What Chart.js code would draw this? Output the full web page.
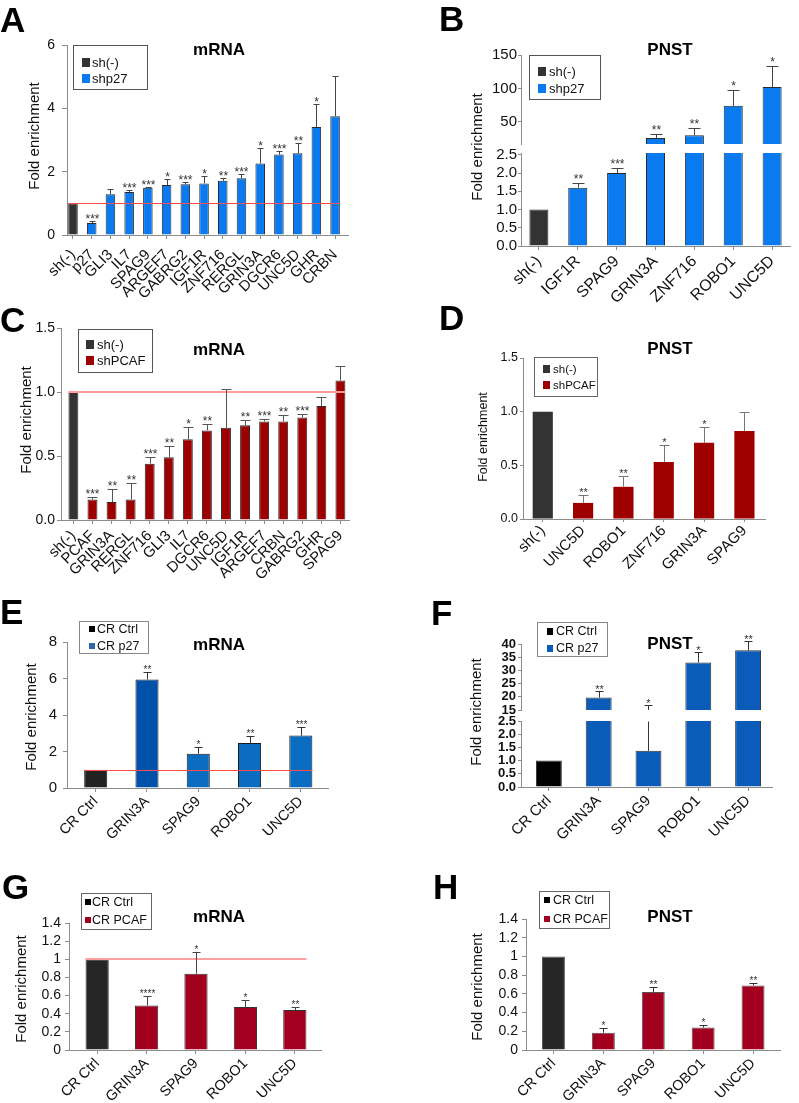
<!DOCTYPE html>
<html>
<head>
<meta charset="utf-8">
<script src="https://cdn.jsdelivr.net/npm/chart.js@4.4.0/dist/chart.umd.min.js"></script>
<style>
html,body{margin:0;padding:0;background:#fff;}
body{position:relative;width:799px;height:1103px;overflow:hidden;}
canvas{position:absolute;}
</style>
</head>
<body>
<canvas id="cA"></canvas>
<canvas id="cB1"></canvas>
<canvas id="cB2"></canvas>
<canvas id="cC"></canvas>
<canvas id="cD"></canvas>
<canvas id="cE"></canvas>
<canvas id="cF1"></canvas>
<canvas id="cF2"></canvas>
<canvas id="cG"></canvas>
<canvas id="cH"></canvas>
<script>
// ---------------- DATA ----------------
// Panel A: mRNA, sh(-) vs shp27
const aLabels = ['sh(-)','p27','GLI3','IL7','SPAG9','ARGEF7','GABRG2','IGF1R','ZNF716','RERGL','GRIN3A','DGCR6','UNC5D','GHR','CRBN'];
const aValues = [1.0,0.38,1.29,1.36,1.49,1.58,1.6,1.63,1.71,1.79,2.26,2.54,2.58,3.41,3.75];
const aErrTop = [null,0.44,1.45,1.41,1.53,1.76,1.67,1.85,1.81,1.93,2.74,2.64,2.9,4.13,5.02];
const aStars = ['','***','','***','***','*','***','*','**','***','*','***','**','*',''];
const aTicks = [0,2,4,6];
const aTickLabels = ['0','2','4','6'];
const aSeries = ['sh(-)','shp27'];

// Panel B: PNST, sh(-) vs shp27 (broken axis)
const bLabels = ['sh(-)','IGF1R','SPAG9','GRIN3A','ZNF716','ROBO1','UNC5D'];
const bValues = [1.0,1.6,2.0,26,30,74,102];
const bErrTop = [null,1.74,2.15,32,41,97,134];
const bStars = ['','**','***','**','**','*','*'];
const bTicksUpper = [50,100,150];
const bTickLabelsUpper = ['50','100','150'];
const bTicksLower = [0,0.5,1,1.5,2,2.5];
const bTickLabelsLower = ['0.0','0.5','1.0','1.5','2.0','2.5'];
const bSeries = ['sh(-)','shp27'];

// Panel C: mRNA, sh(-) vs shPCAF
const cLabels = ['sh(-)','PCAF','GRIN3A','RERGL','ZNF716','GLI3','IL7','DGCR6','UNC5D','IGF1R','ARGEF7','CRBN','GABRG2','GHR','SPAG9'];
const cValues = [1.0,0.16,0.14,0.16,0.44,0.49,0.63,0.70,0.72,0.74,0.77,0.77,0.80,0.89,1.09];
const cErrTop = [null,0.18,0.24,0.29,0.49,0.58,0.73,0.75,1.02,0.78,0.79,0.82,0.83,0.96,1.20];
const cStars = ['','***','**','**','***','**','*','**','','**','***','**','***','',''];
const cTicks = [0,0.5,1,1.5];
const cTickLabels = ['0.0','0.5','1.0','1.5'];
const cSeries = ['sh(-)','shPCAF'];

// Panel D: PNST, sh(-) vs shPCAF
const dLabels = ['sh(-)','UNC5D','ROBO1','ZNF716','GRIN3A','SPAG9'];
const dValues = [1.0,0.15,0.30,0.53,0.71,0.82];
const dErrTop = [null,0.22,0.40,0.69,0.86,1.00];
const dStars = ['','**','**','*','*',''];
const dTicks = [0,0.5,1,1.5];
const dTickLabels = ['0.0','0.5','1.0','1.5'];
const dSeries = ['sh(-)','shPCAF'];

// Panel E: mRNA, CR Ctrl vs CR p27
const eLabels = ['CR Ctrl','GRIN3A','SPAG9','ROBO1','UNC5D'];
const eValues = [1.0,5.95,1.88,2.47,2.87];
const eErrTop = [null,6.34,2.25,2.83,3.32];
const eStars = ['','**','*','**','***'];
const eTicks = [0,2,4,6,8];
const eTickLabels = ['0','2','4','6','8'];
const eSeries = ['CR Ctrl','CR p27'];

// Panel F: PNST, CR Ctrl vs CR p27 (broken axis)
const fLabels = ['CR Ctrl','GRIN3A','SPAG9','ROBO1','UNC5D'];
const fValues = [1.0,19.7,1.37,33.0,37.6];
const fErrTop = [null,22.2,16.8,36.8,41.2];
const fStars = ['','**','*','*','**'];
const fTicksUpper = [15,20,25,30,35,40];
const fTickLabelsUpper = ['15','20','25','30','35','40'];
const fTicksLower = [0,0.5,1,1.5,2,2.5];
const fTickLabelsLower = ['0.0','0.5','1.0','1.5','2.0','2.5'];
const fSeries = ['CR Ctrl','CR p27'];

// Panel G: mRNA, CR Ctrl vs CR PCAF
const gLabels = ['CR Ctrl','GRIN3A','SPAG9','ROBO1','UNC5D'];
const gValues = [1.0,0.49,0.84,0.475,0.44];
const gErrTop = [null,0.59,1.08,0.55,0.475];
const gStars = ['','****','*','*','**'];
const gTicks = [0,0.2,0.4,0.6,0.8,1,1.2,1.4];
const gTickLabels = ['0','0.2','0.4','0.6','0.8','1','1.2','1.4'];
const gSeries = ['CR Ctrl','CR PCAF'];

// Panel H: PNST, CR Ctrl vs CR PCAF
const hLabels = ['CR Ctrl','GRIN3A','SPAG9','ROBO1','UNC5D'];
const hValues = [1.0,0.185,0.62,0.24,0.69];
const hErrTop = [null,0.24,0.67,0.27,0.72];
const hStars = ['','*','**','*','**'];
const hTicks = [0,0.2,0.4,0.6,0.8,1,1.2,1.4];
const hTickLabels = ['0','0.2','0.4','0.6','0.8','1','1.2','1.4'];
const hSeries = ['CR Ctrl','CR PCAF'];

// ---------------- RENDERING ----------------
const FONT = "'Liberation Sans', Arial, Helvetica, sans-serif";
Chart.defaults.font.family = FONT;
Chart.defaults.color = '#222';
const SPECS = new WeakMap();

const panelPlugin = {
  id: 'panelExtras',
  afterDatasetsDraw(chart) {
    const s = SPECS.get(chart.canvas); if (!s) return;
    const ctx = chart.ctx, xs = chart.scales.x, ys = chart.scales.y, ca = chart.chartArea;
    ctx.save();
    if (s.ref) {
      const meta = chart.getDatasetMeta(0);
      const f = meta.data[0], l = meta.data[meta.data.length - 1];
      const y = Math.round(ys.getPixelForValue(s.ref.value)) + (s.ref.width % 2 ? 0.5 : 0);
      ctx.strokeStyle = s.ref.color; ctx.lineWidth = s.ref.width;
      ctx.beginPath(); ctx.moveTo(f.x - f.width / 2, y); ctx.lineTo(l.x + l.width / 2, y); ctx.stroke();
    }
    if (s.errors) {
      ctx.strokeStyle = s.errColor; ctx.lineWidth = 1;
      ctx.fillStyle = '#333';
      ctx.font = s.starFont + 'px ' + FONT; ctx.textAlign = 'center'; ctx.textBaseline = 'alphabetic';
      s.errors.forEach((e, i) => {
        if (e === null || e === undefined) return;
        const v = s.values[i];
        if (v > ys.max || e < ys.min) return;
        const x = Math.round(xs.getPixelForValue(i)) + 0.5;
        const y1 = ys.getPixelForValue(Math.max(v, ys.min));
        let y2 = ys.getPixelForValue(e); let cap = true;
        if (s.clipTop && e > ys.max) { y2 = ca.top; cap = false; }
        y2 = Math.round(y2) + 0.5;
        ctx.beginPath(); ctx.moveTo(x, y1); ctx.lineTo(x, y2);
        if (cap) { ctx.moveTo(x - s.cap, y2); ctx.lineTo(x + s.cap, y2); }
        ctx.stroke();
        if (cap && s.stars && s.stars[i]) ctx.fillText(s.stars[i], x, y2 - s.starGap + 0.58 * s.starFont);
      });
    }
    ctx.restore();
  },
  afterDraw(chart) {
    const s = SPECS.get(chart.canvas); if (!s || !s.deco) return;
    const d = s.deco, ox = s.box.x, oy = s.box.y, ctx = chart.ctx;
    ctx.save();
    ctx.fillStyle = '#000';
    ctx.font = 'bold 35px ' + FONT; ctx.textAlign = 'left'; ctx.textBaseline = 'alphabetic';
    ctx.fillText(d.letter[0], d.letter[1] - ox, d.letter[2] - oy);
    ctx.font = 'bold 17px ' + FONT; ctx.textAlign = 'center'; ctx.textBaseline = 'middle';
    ctx.fillText(d.title[0], d.title[1] - ox, d.title[2] - oy);
    ctx.save();
    ctx.translate(d.yTitle[1] - ox, d.yTitle[2] - oy); ctx.rotate(-Math.PI / 2);
    ctx.font = d.yTitle[3] + 'px ' + FONT; ctx.fillStyle = '#111';
    ctx.fillText(d.yTitle[0], 0, 0);
    ctx.restore();
    const L = d.legend;
    ctx.strokeStyle = L.border; ctx.lineWidth = 1;
    ctx.strokeRect(L.x - ox + 0.5, L.y - oy + 0.5, L.w, L.h);
    ctx.font = L.font + 'px ' + FONT; ctx.textAlign = 'left'; ctx.textBaseline = 'middle';
    L.items.forEach((it, k) => {
      const cy = L.rows[k] - oy;
      ctx.fillStyle = it[1];
      ctx.fillRect(L.sx - ox, Math.round(cy - L.sh / 2), L.sw, L.sh);
      ctx.fillStyle = '#111';
      ctx.fillText(it[0], L.tx - ox, cy + 1);
    });
    ctx.restore();
  }
};

function makeChart(id, s) {
  const box = s.box, area = s.area;
  const cv = document.getElementById(id);
  cv.width = box.w; cv.height = box.h;
  cv.style.left = box.x + 'px'; cv.style.top = box.y + 'px';
  SPECS.set(cv, s);
  const showX = s.showX !== false;
  const axisColor = s.axisColor || '#8c8c8c';
  const xScale = {
    type: 'linear', display: showX, min: s.xMin, max: s.xMax, offset: false,
    afterBuildTicks: sc => { sc.ticks = s.labels.map((_, i) => ({ value: i })); },
    grid: { display: true, drawOnChartArea: false, drawTicks: true, tickLength: s.xTickLen || 4, color: axisColor, offset: false },
    border: { display: true, color: axisColor, width: 1 },
    ticks: { autoSkip: false, minRotation: 45, maxRotation: 45, padding: s.xPad === undefined ? 2 : s.xPad, color: '#111',
      font: { size: s.xFont, family: FONT }, callback: v => s.labels[Math.round(v)] }
  };
  if (showX) xScale.afterFit = sc => { sc.height = box.y + box.h - area.b; };
  return new Chart(cv, {
    type: 'bar',
    data: {
      datasets: [{
        data: s.values.map((v, i) => ({ x: i, y: v })),
        backgroundColor: s.values.map((v, i) => s.colors[Math.min(i, s.colors.length - 1)]),
        borderColor: s.borderColor || '#2a2a2a',
        borderWidth: s.borderWidth === undefined ? 1 : s.borderWidth,
        categoryPercentage: s.barFrac, barPercentage: 1,
        clip: s.clip === undefined ? false : s.clip
      }]
    },
    options: {
      responsive: false, animation: false, devicePixelRatio: 1, events: [],
      layout: { padding: { left: 0, top: area.t - box.y, right: box.x + box.w - area.r,
        bottom: showX ? 0 : box.y + box.h - area.b } },
      plugins: { legend: { display: false }, tooltip: { enabled: false } },
      scales: {
        x: xScale,
        y: {
          type: 'linear', min: s.yMin, max: s.yMax, beginAtZero: false,
          afterBuildTicks: sc => { sc.ticks = s.yTicks.map(v => ({ value: v })); },
          afterFit: sc => { sc.width = area.l - box.x; },
          grid: { drawOnChartArea: false, drawTicks: true, tickLength: s.yTickLen, color: axisColor },
          border: { display: true, color: axisColor, width: 1 },
          ticks: { autoSkip: false, padding: s.yPad, color: '#111', font: { size: s.yFont, weight: s.yBold ? 'bold' : 'normal', family: FONT },
            callback: (v, i) => s.yTickLabels[i] }
        }
      }
    },
    plugins: [panelPlugin]
  });
}

const BLUE_A = '#0a7af0', DARK = '#333333', RED_C = '#9e0000', RED_G = '#a30020';

// A
makeChart('cA', {
  box: { x: 0, y: 0, w: 400, h: 310 }, area: { l: 67, t: 45, r: 348, b: 235 },
  labels: aLabels, values: aValues, errors: aErrTop, stars: aStars,
  yMin: 0, yMax: 6, yTicks: aTicks, yTickLabels: aTickLabels, yFont: 14, yTickLen: 5, yPad: 7,
  xMin: -0.32, xMax: 14.69, xFont: 15, xPad: 7, barFrac: 0.51,
  colors: [DARK, BLUE_A], errColor: '#444', cap: 3, starFont: 12, starGap: 5,
  ref: { value: 1, color: '#ff4d4d', width: 1 },
  deco: { letter: ['A', 0, 32], title: ['mRNA', 219, 50], yTitle: ['Fold enrichment', 35, 136, 15],
    legend: { x: 73, y: 45, w: 74, h: 44, sx: 82, sw: 8, sh: 9, tx: 92, rows: [62, 78], font: 13, border: '#555',
      items: [[aSeries[0], DARK], [aSeries[1], BLUE_A]] } }
});

// B upper + lower
const bBase = {
  box: { x: 400, y: 0, w: 399, h: 310 }, labels: bLabels, values: bValues, errors: bErrTop, stars: bStars,
  xMin: -0.46, xMax: 6.46, xFont: 16, xPad: 2, barFrac: 0.49, yFont: 15, yTickLen: 3, yPad: 1,
  colors: [DARK, BLUE_A], errColor: '#444', cap: 6, starFont: 12, starGap: 7, clip: 0
};
makeChart('cB1', Object.assign({}, bBase, {
  area: { l: 521, t: 55, r: 790, b: 144 }, showX: false,
  yMin: 17, yMax: 150, yTicks: bTicksUpper, yTickLabels: bTickLabelsUpper
}));
makeChart('cB2', Object.assign({}, bBase, {
  area: { l: 521, t: 153, r: 790, b: 246 }, clipTop: true,
  yMin: 0, yMax: 2.55, yTicks: bTicksLower, yTickLabels: bTickLabelsLower,
  deco: { letter: ['B', 439, 31], title: ['PNST', 670, 50], yTitle: ['Fold enrichment', 478, 147, 15],
    legend: { x: 529, y: 55, w: 71, h: 44, sx: 538, sw: 8, sh: 9, tx: 549, rows: [71, 88], font: 13, border: '#555',
      items: [[bSeries[0], DARK], [bSeries[1], BLUE_A]] } }
}));

// C
makeChart('cC', {
  box: { x: 0, y: 270, w: 400, h: 310 }, area: { l: 61, t: 328, r: 349, b: 520 },
  labels: cLabels, values: cValues, errors: cErrTop, stars: cStars,
  yMin: 0, yMax: 1.5, yTicks: cTicks, yTickLabels: cTickLabels, yFont: 14, yTickLen: 4, yPad: 2,
  xMin: -0.65, xMax: 14.45, xFont: 15, xPad: 3, barFrac: 0.52,
  colors: [DARK, RED_C], errColor: '#555', cap: 5, starFont: 12, starGap: 6.5,
  ref: { value: 1, color: '#ff9c9c', width: 2 },
  deco: { letter: ['C', 0, 332], title: ['mRNA', 219, 350], yTitle: ['Fold enrichment', 27, 420, 15],
    legend: { x: 78, y: 329, w: 74, h: 43, sx: 86, sw: 8, sh: 9, tx: 97, rows: [344, 360], font: 13, border: '#555',
      items: [[cSeries[0], DARK], [cSeries[1], RED_C]] } }
});

// D
makeChart('cD', {
  box: { x: 400, y: 270, w: 399, h: 315 }, area: { l: 523, t: 358, r: 765, b: 519 },
  labels: dLabels, values: dValues, errors: dErrTop, stars: dStars,
  yMin: 0, yMax: 1.5, yTicks: dTicks, yTickLabels: dTickLabels, yFont: 12.5, yTickLen: 3, yPad: 2,
  xMin: -0.49, xMax: 5.51, xFont: 15, xPad: 0, xTickLen: 3, barFrac: 0.5, borderWidth: 0,
  colors: [DARK, RED_C], errColor: '#777', cap: 5, starFont: 11, starGap: 6,
  deco: { letter: ['D', 439, 330], title: ['PNST', 670, 349], yTitle: ['Fold enrichment', 484, 437, 12.5],
    legend: { x: 534, y: 357, w: 63, h: 39, sx: 543, sw: 7, sh: 8, tx: 553, rows: [369, 385], font: 11.5, border: '#666',
      items: [[dSeries[0], DARK], [dSeries[1], RED_C]] } }
});

// E
makeChart('cE', {
  box: { x: 0, y: 540, w: 400, h: 300 }, area: { l: 67, t: 642, r: 328, b: 788 },
  labels: eLabels, values: eValues, errors: eErrTop, stars: eStars,
  yMin: 0, yMax: 8, yTicks: eTicks, yTickLabels: eTickLabels, yFont: 15, yTickLen: 4, yPad: 6,
  xMin: -0.56, xMax: 4.53, xFont: 14.5, xPad: 1, barFrac: 0.45, borderColor: '#1a1a1a',
  colors: ['#222222', '#0052a8', '#0a6dc2'], errColor: '#333', cap: 4, starFont: 10, starGap: 5,
  ref: { value: 1, color: '#ff4d4d', width: 1 },
  deco: { letter: ['E', 0, 624], title: ['mRNA', 219, 645], yTitle: ['Fold enrichment', 32, 717, 15],
    legend: { x: 79, y: 621, w: 69, h: 32, sx: 89, sw: 6, sh: 6, tx: 97, rows: [629, 646], font: 12.5, border: '#888',
      items: [[eSeries[0], '#000000'], [eSeries[1], '#2e66aa']] } }
});

// F upper + lower
const fBase = {
  box: { x: 400, y: 540, w: 399, h: 300 }, labels: fLabels, values: fValues, errors: fErrTop, stars: fStars,
  xMin: -0.56, xMax: 4.48, xFont: 15, xPad: 1, barFrac: 0.52, yFont: 13, yBold: true, yTickLen: 3, yPad: 2,
  colors: ['#000000', '#0b5bb8'], borderColor: '#333', errColor: '#333', cap: 4, starFont: 11, starGap: 5, clip: 0
};
makeChart('cF1', Object.assign({}, fBase, {
  area: { l: 521, t: 644, r: 772, b: 710 }, showX: false,
  yMin: 15, yMax: 40, yTicks: fTicksUpper, yTickLabels: fTickLabelsUpper
}));
makeChart('cF2', Object.assign({}, fBase, {
  area: { l: 521, t: 721, r: 772, b: 787 }, clipTop: true,
  yMin: 0, yMax: 2.5, yTicks: fTicksLower, yTickLabels: fTickLabelsLower,
  deco: { letter: ['F', 431, 625], title: ['PNST', 670, 644], yTitle: ['Fold enrichment', 477, 712, 15],
    legend: { x: 537, y: 622, w: 70, h: 34, sx: 547, sw: 6, sh: 7, tx: 556, rows: [631, 648], font: 12.5, border: '#888',
      items: [[fSeries[0], '#000000'], [fSeries[1], '#0b5bb8']] } }
}));

// G
makeChart('cG', {
  box: { x: 0, y: 820, w: 400, h: 283 }, area: { l: 69, t: 923, r: 321, b: 1050 },
  labels: gLabels, values: gValues, errors: gErrTop, stars: gStars,
  yMin: 0, yMax: 1.4, yTicks: gTicks, yTickLabels: gTickLabels, yFont: 14, yTickLen: 4, yPad: 4,
  xMin: -0.57, xMax: 4.53, xFont: 14.5, xPad: 1, barFrac: 0.47, borderColor: '#333',
  colors: ['#262626', RED_G], errColor: '#444', cap: 4, starFont: 10, starGap: 5,
  ref: { value: 1, color: '#ffa0a0', width: 2 },
  deco: { letter: ['G', 2, 899], title: ['mRNA', 219, 917], yTitle: ['Fold enrichment', 22, 989, 15],
    legend: { x: 81, y: 893, w: 70, h: 36, sx: 85, sw: 6, sh: 6, tx: 92, rows: [902, 920], font: 12.5, border: '#666',
      items: [[gSeries[0], '#000000'], [gSeries[1], RED_G]] } }
});

// H
makeChart('cH', {
  box: { x: 400, y: 820, w: 399, h: 283 }, area: { l: 526, t: 919, r: 780, b: 1050 },
  labels: hLabels, values: hValues, errors: hErrTop, stars: hStars,
  yMin: 0, yMax: 1.4, yTicks: hTicks, yTickLabels: hTickLabels, yFont: 14, yTickLen: 4, yPad: 4,
  xMin: -0.55, xMax: 4.54, xFont: 14.5, xPad: 1, barFrac: 0.46, borderColor: '#555',
  colors: ['#262626', RED_G], errColor: '#333', cap: 4, starFont: 10, starGap: 5,
  deco: { letter: ['H', 433, 899], title: ['PNST', 670, 917], yTitle: ['Fold enrichment', 478, 987, 15],
    legend: { x: 539, y: 891, w: 70, h: 37, sx: 544, sw: 6, sh: 6, tx: 553, rows: [900, 919], font: 12.5, border: '#666',
      items: [[hSeries[0], '#000000'], [hSeries[1], RED_G]] } }
});
</script>
</body>
</html>
